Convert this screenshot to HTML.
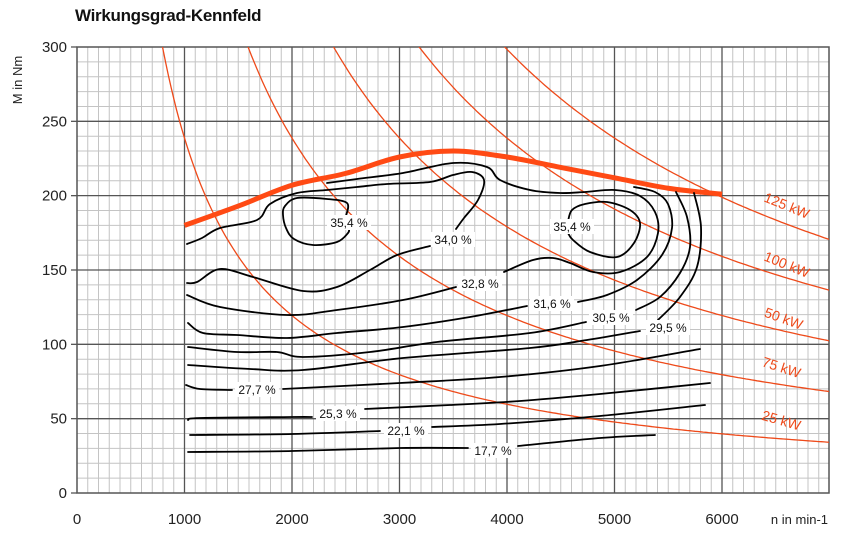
<!DOCTYPE html>
<html><head><meta charset="utf-8"><style>
html,body{margin:0;padding:0;background:#fff;}
svg{display:block;font-family:"Liberation Sans",Arial,sans-serif;}
</style></head><body>
<svg id="s" width="845" height="534" viewBox="0 0 845 534" xmlns="http://www.w3.org/2000/svg">
<defs><clipPath id="cp"><rect x="77" y="47" width="752" height="446"/></clipPath></defs>
<g id="grid"></g>
<g id="pw" clip-path="url(#cp)"></g>
<g id="ct" fill="none" stroke="#000" stroke-width="1.8" stroke-linecap="round" stroke-linejoin="round"></g>
<g id="lb" font-size="12" fill="#111"></g>
<text x="75" y="21" font-size="17" font-weight="bold" fill="#111" letter-spacing="-0.3">Wirkungsgrad-Kennfeld</text>
<text transform="translate(22,80) rotate(-90)" text-anchor="middle" font-size="13" fill="#222">M in Nm</text>
<text x="828" y="524" text-anchor="end" font-size="13" fill="#222">n in min-1</text>
<g font-size="14" fill="#ee4a1a">
<text transform="translate(785,210) rotate(22)" text-anchor="middle">125 kW</text>
<text transform="translate(785,269) rotate(22)" text-anchor="middle">100 kW</text>
<text transform="translate(782,323) rotate(20)" text-anchor="middle">50 kW</text>
<text transform="translate(780,372) rotate(18)" text-anchor="middle">75 kW</text>
<text transform="translate(780,425) rotate(16)" text-anchor="middle">25 kW</text>
</g>
</svg>
<script>
const NS="http://www.w3.org/2000/svg";
const X=n=>77+n*0.1075, Y=t=>493-t*1.4867;
function el(p,tag,a,txt){const e=document.createElementNS(NS,tag);for(const k in a)e.setAttribute(k,a[k]);if(txt!==undefined)e.textContent=txt;p.appendChild(e);return e;}
const g=document.getElementById('grid');
// minor
for(let n=0;n<=7000;n+=100){if(n%1000)el(g,'line',{x1:X(n),x2:X(n),y1:47,y2:493,stroke:'#c4c4c4','stroke-width':1});}
for(let t=0;t<=300;t+=10){if(t%50)el(g,'line',{x1:77,x2:829,y1:Y(t),y2:Y(t),stroke:'#c4c4c4','stroke-width':1});}
for(let n=1000;n<7000;n+=1000)el(g,'line',{x1:X(n),x2:X(n),y1:47,y2:493,stroke:'#555','stroke-width':1.3});
for(let t=50;t<300;t+=50)el(g,'line',{x1:77,x2:829,y1:Y(t),y2:Y(t),stroke:'#555','stroke-width':1.3});
el(g,'rect',{x:77,y:47,width:752,height:446,fill:'none',stroke:'#555','stroke-width':1.5});
for(let t=0;t<=300;t+=50){el(g,'line',{x1:71,x2:77,y1:Y(t),y2:Y(t),stroke:'#555','stroke-width':1.3});
 el(g,'text',{x:67,y:Y(t)+5,'text-anchor':'end','font-size':15,fill:'#222'},t);}
for(let n=0;n<=6000;n+=1000){el(g,'text',{x:X(n),y:524,'text-anchor':'middle','font-size':15,fill:'#222'},n);}
// power curves
const pw=document.getElementById('pw');
[25,50,75,100,125].forEach(P=>{let d='';for(let n=600;n<=7100;n+=25){const t=P*9549/n;d+=(d?'L':'M')+X(n).toFixed(1)+','+Y(t).toFixed(1);}
 el(pw,'path',{d,fill:'none',stroke:'#ee4a1a','stroke-width':1.3});});
function cr(pts){let d='M'+pts[0][0]+','+pts[0][1];for(let i=0;i<pts.length-1;i++){const p0=pts[i-1]||pts[i],p1=pts[i],p2=pts[i+1],p3=pts[i+2]||p2;
 const c1=[p1[0]+(p2[0]-p0[0])/6,p1[1]+(p2[1]-p0[1])/6],c2=[p2[0]-(p3[0]-p1[0])/6,p2[1]-(p3[1]-p1[1])/6];
 d+='C'+c1.map(v=>v.toFixed(1))+' '+c2.map(v=>v.toFixed(1))+' '+p2;}return d;}
// full load
el(pw,'path',{d:cr([[1000,180],[1500,193],[2000,207],[2500,215],[3000,226],[3500,230],[4000,226],[4500,219],[5000,212],[5500,205],[6000,201]].map(p=>[X(p[0]),Y(p[1])])),fill:'none',stroke:'#ff4a14','stroke-width':5});
const ct=document.getElementById('ct');
const C=[
[[187,244],[202,238],[220,228],[257,220],[270,204],[297,193],[327,190],[357,187],[387,184],[430,182],[453,175],[472,172],[484,180],[478,200],[464,218],[456,229]],
[[430,246],[397,255],[370,270],[337,287],[303,291],[253,277],[220,269],[197,282],[187,283]],
[[346,216],[347,203],[327,199],[297,198],[285,206],[283,215],[286,228],[294,239],[313,245],[337,242],[348,233],[349,229]],
[[568,221],[572,210],[585,204],[607,202],[630,210],[640,223],[634,243],[617,257],[590,252],[573,240],[568,233]],
[[187,295],[220,307],[287,315],[337,310],[403,300],[456,287]],
[[504,272],[533,260],[553,258],[570,263],[593,272],[620,272],[647,257],[658,233],[655,212],[640,196],[615,190],[585,192],[560,193],[530,190],[500,180],[487,167],[453,163],[403,173],[357,179],[327,183]],
[[188,323],[203,333],[237,335],[287,338],[337,333],[403,327],[470,317],[527,306]],
[[578,302],[607,295],[637,280],[662,255],[672,228],[668,204],[655,192],[634,187]],
[[188,347],[237,352],[277,352],[303,357],[370,352],[437,342],[530,333],[586,322]],
[[636,310],[660,297],[680,273],[690,247],[687,217],[676,192]],
[[188,365],[250,369],[303,370],[403,358],[530,348],[587,340],[640,331]],
[[658,320],[680,297],[697,267],[701,227],[694,193]],
[[186,385],[200,389],[232,390]],
[[283,389],[400,383],[500,377],[600,366],[700,349]],
[[188,420],[200,418],[292,417],[312,417]],
[[365,409],[450,405],[520,401],[600,394],[710,383]],
[[190,435],[292,434],[380,431]],
[[432,427],[500,424],[600,416],[705,405]],
[[188,452],[292,451],[400,448],[468,448]],
[[518,446],[600,438],[655,435]]
];
C.forEach(p=>el(ct,'path',{d:cr(p)}));
const lb=document.getElementById('lb');
[['35,4 %',349,227],['34,0 %',453,244],['32,8 %',480,288],['31,6 %',552,308],['30,5 %',611,322],['29,5 %',668,332],['27,7 %',257,394],['25,3 %',338,418],['22,1 %',406,435],['17,7 %',493,455],['35,4 %',572,231]].forEach(([t,x,y])=>{
 el(lb,'rect',{x:x-22,y:y-12,width:44,height:15,fill:'#fff'});
 el(lb,'text',{x,y,'text-anchor':'middle'},t);});
</script>
</body></html>
